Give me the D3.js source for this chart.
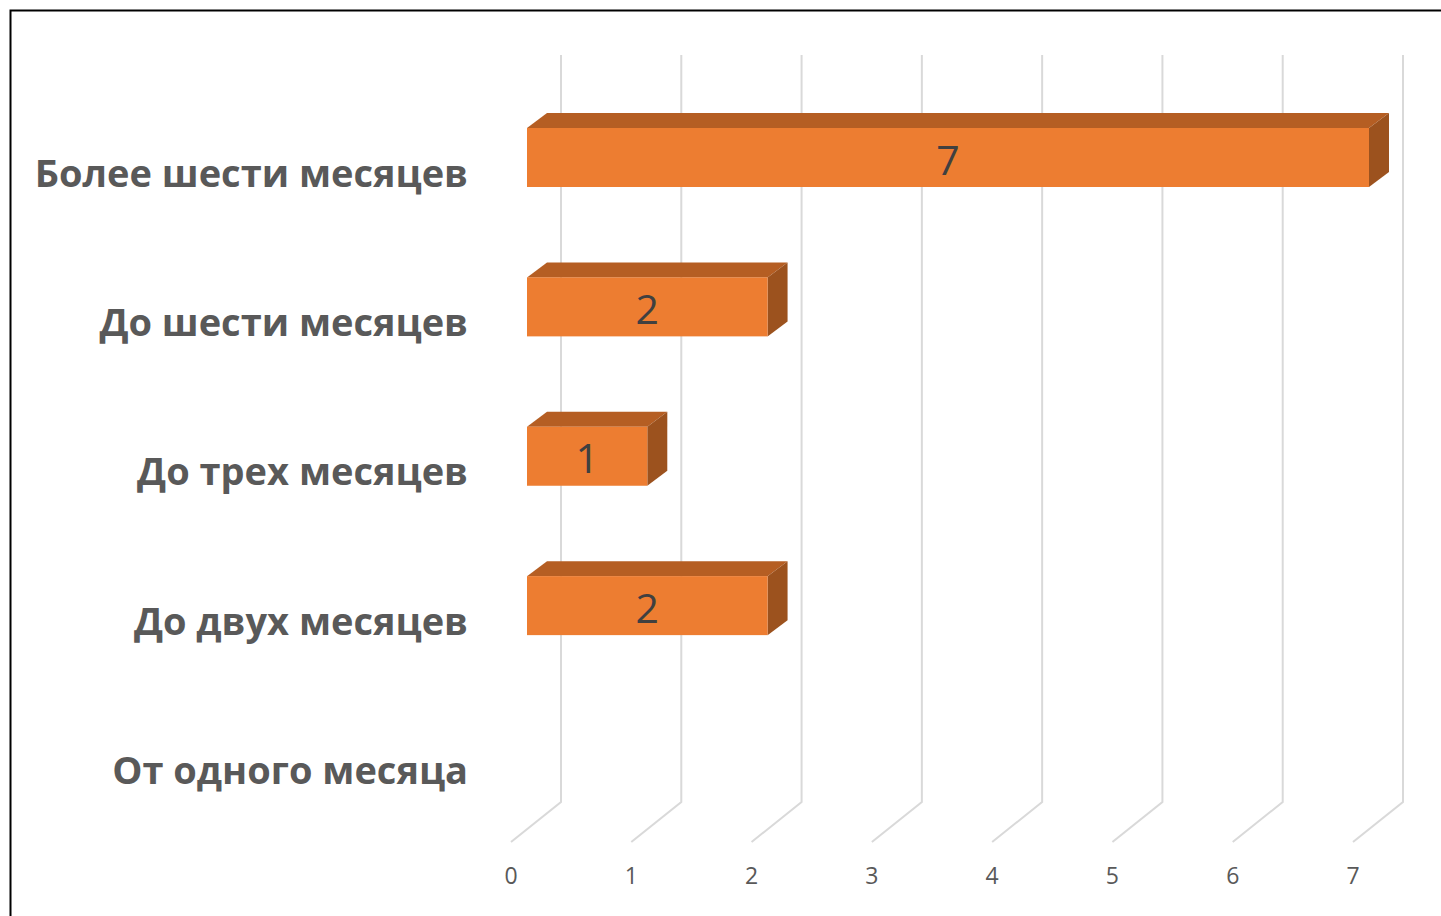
<!DOCTYPE html>
<html>
<head>
<meta charset="utf-8">
<script src="https://cdn.jsdelivr.net/npm/d3@7"></script>
<style>
  body { margin: 0; background: #fff; }
  svg { display: block; }
</style>
</head>
<body>
<div id="chart"></div>
<script>
// data
const categories = ["Более шести месяцев", "До шести месяцев", "До трех месяцев", "До двух месяцев", "От одного месяца"];
const values = [7, 2, 1, 2, 0];
const tickValues = [0, 1, 2, 3, 4, 5, 6, 7];

const width = 1441, height = 916;

const svg = d3.select("#chart").append("svg")
    .attr("width", width)
    .attr("height", height);

// frame
svg.append("rect")
    .attr("x", 10.5).attr("y", 10.5)
    .attr("width", width).attr("height", height)
    .attr("fill", "none")
    .attr("stroke", "#000")
    .attr("stroke-width", 2);

// x scale on the front plane of the bars
let x = d3.scaleLinear().domain([0, 7]).range([527, 1369]);
let y = d3.scalePoint().domain(categories).range([157.5, 755]);

const barH = 59;
// depth offsets (oblique projection)
const wallDx = 34;
const depthDx = 20, depthDy = -15;
const wallTop = 55, wallBottom = 802;

// back wall gridlines and floor lines
let grid = svg.append("g").attr("stroke", "#d9d9d9").attr("stroke-width", 2).attr("fill", "none");
tickValues.forEach(t => {
    let bx = x(t) + wallDx;
    grid.append("path")
        .attr("d", `M${bx},${wallTop}L${bx},${wallBottom}L${bx - 50},${wallBottom + 40}`);
});

// tick labels
svg.append("g").selectAll("text")
    .data(tickValues)
    .join("text")
    .attr("x", d => x(d) - 16)
    .attr("y", 884)
    .attr("text-anchor", "middle")
    .attr("font-family", "'Open Sans', sans-serif")
    .attr("font-size", 23)
    .attr("fill", "#595959")
    .text(d => d);

// bars
let bars = svg.append("g");
categories.forEach((c, i) => {
    let v = values[i];
    if (v <= 0) return;
    let x0 = x(0), x1 = x(v);
    let yt = y(c) - barH / 2, yb = y(c) + barH / 2;

    // top face
    bars.append("path")
        .attr("d", `M${x0},${yt}L${x0 + depthDx},${yt + depthDy}L${x1 + depthDx},${yt + depthDy}L${x1},${yt}Z`)
        .attr("fill", "#b55e23");
    // right face
    bars.append("path")
        .attr("d", `M${x1},${yt}L${x1 + depthDx},${yt + depthDy}L${x1 + depthDx},${yb + depthDy}L${x1},${yb}Z`)
        .attr("fill", "#9c521e");
    // front face
    bars.append("rect")
        .attr("x", x0).attr("y", yt)
        .attr("width", x1 - x0).attr("height", barH)
        .attr("fill", "#ed7d31");
    // value label
    bars.append("text")
        .attr("x", (x0 + x1) / 2)
        .attr("y", y(c) + 17)
        .attr("text-anchor", "middle")
        .attr("font-family", "'Open Sans', sans-serif")
        .attr("font-size", 41)
        .attr("fill", "#404040")
        .text(v);
});

// category labels
svg.append("g").selectAll("text")
    .data(categories)
    .join("text")
    .attr("x", 468)
    .attr("y", d => y(d) + 29)
    .attr("text-anchor", "end")
    .attr("font-family", "'Open Sans', sans-serif")
    .attr("font-weight", "bold")
    .attr("font-size", 38)
    .attr("fill", "#595959")
    .text(d => d);
</script>
</body>
</html>
